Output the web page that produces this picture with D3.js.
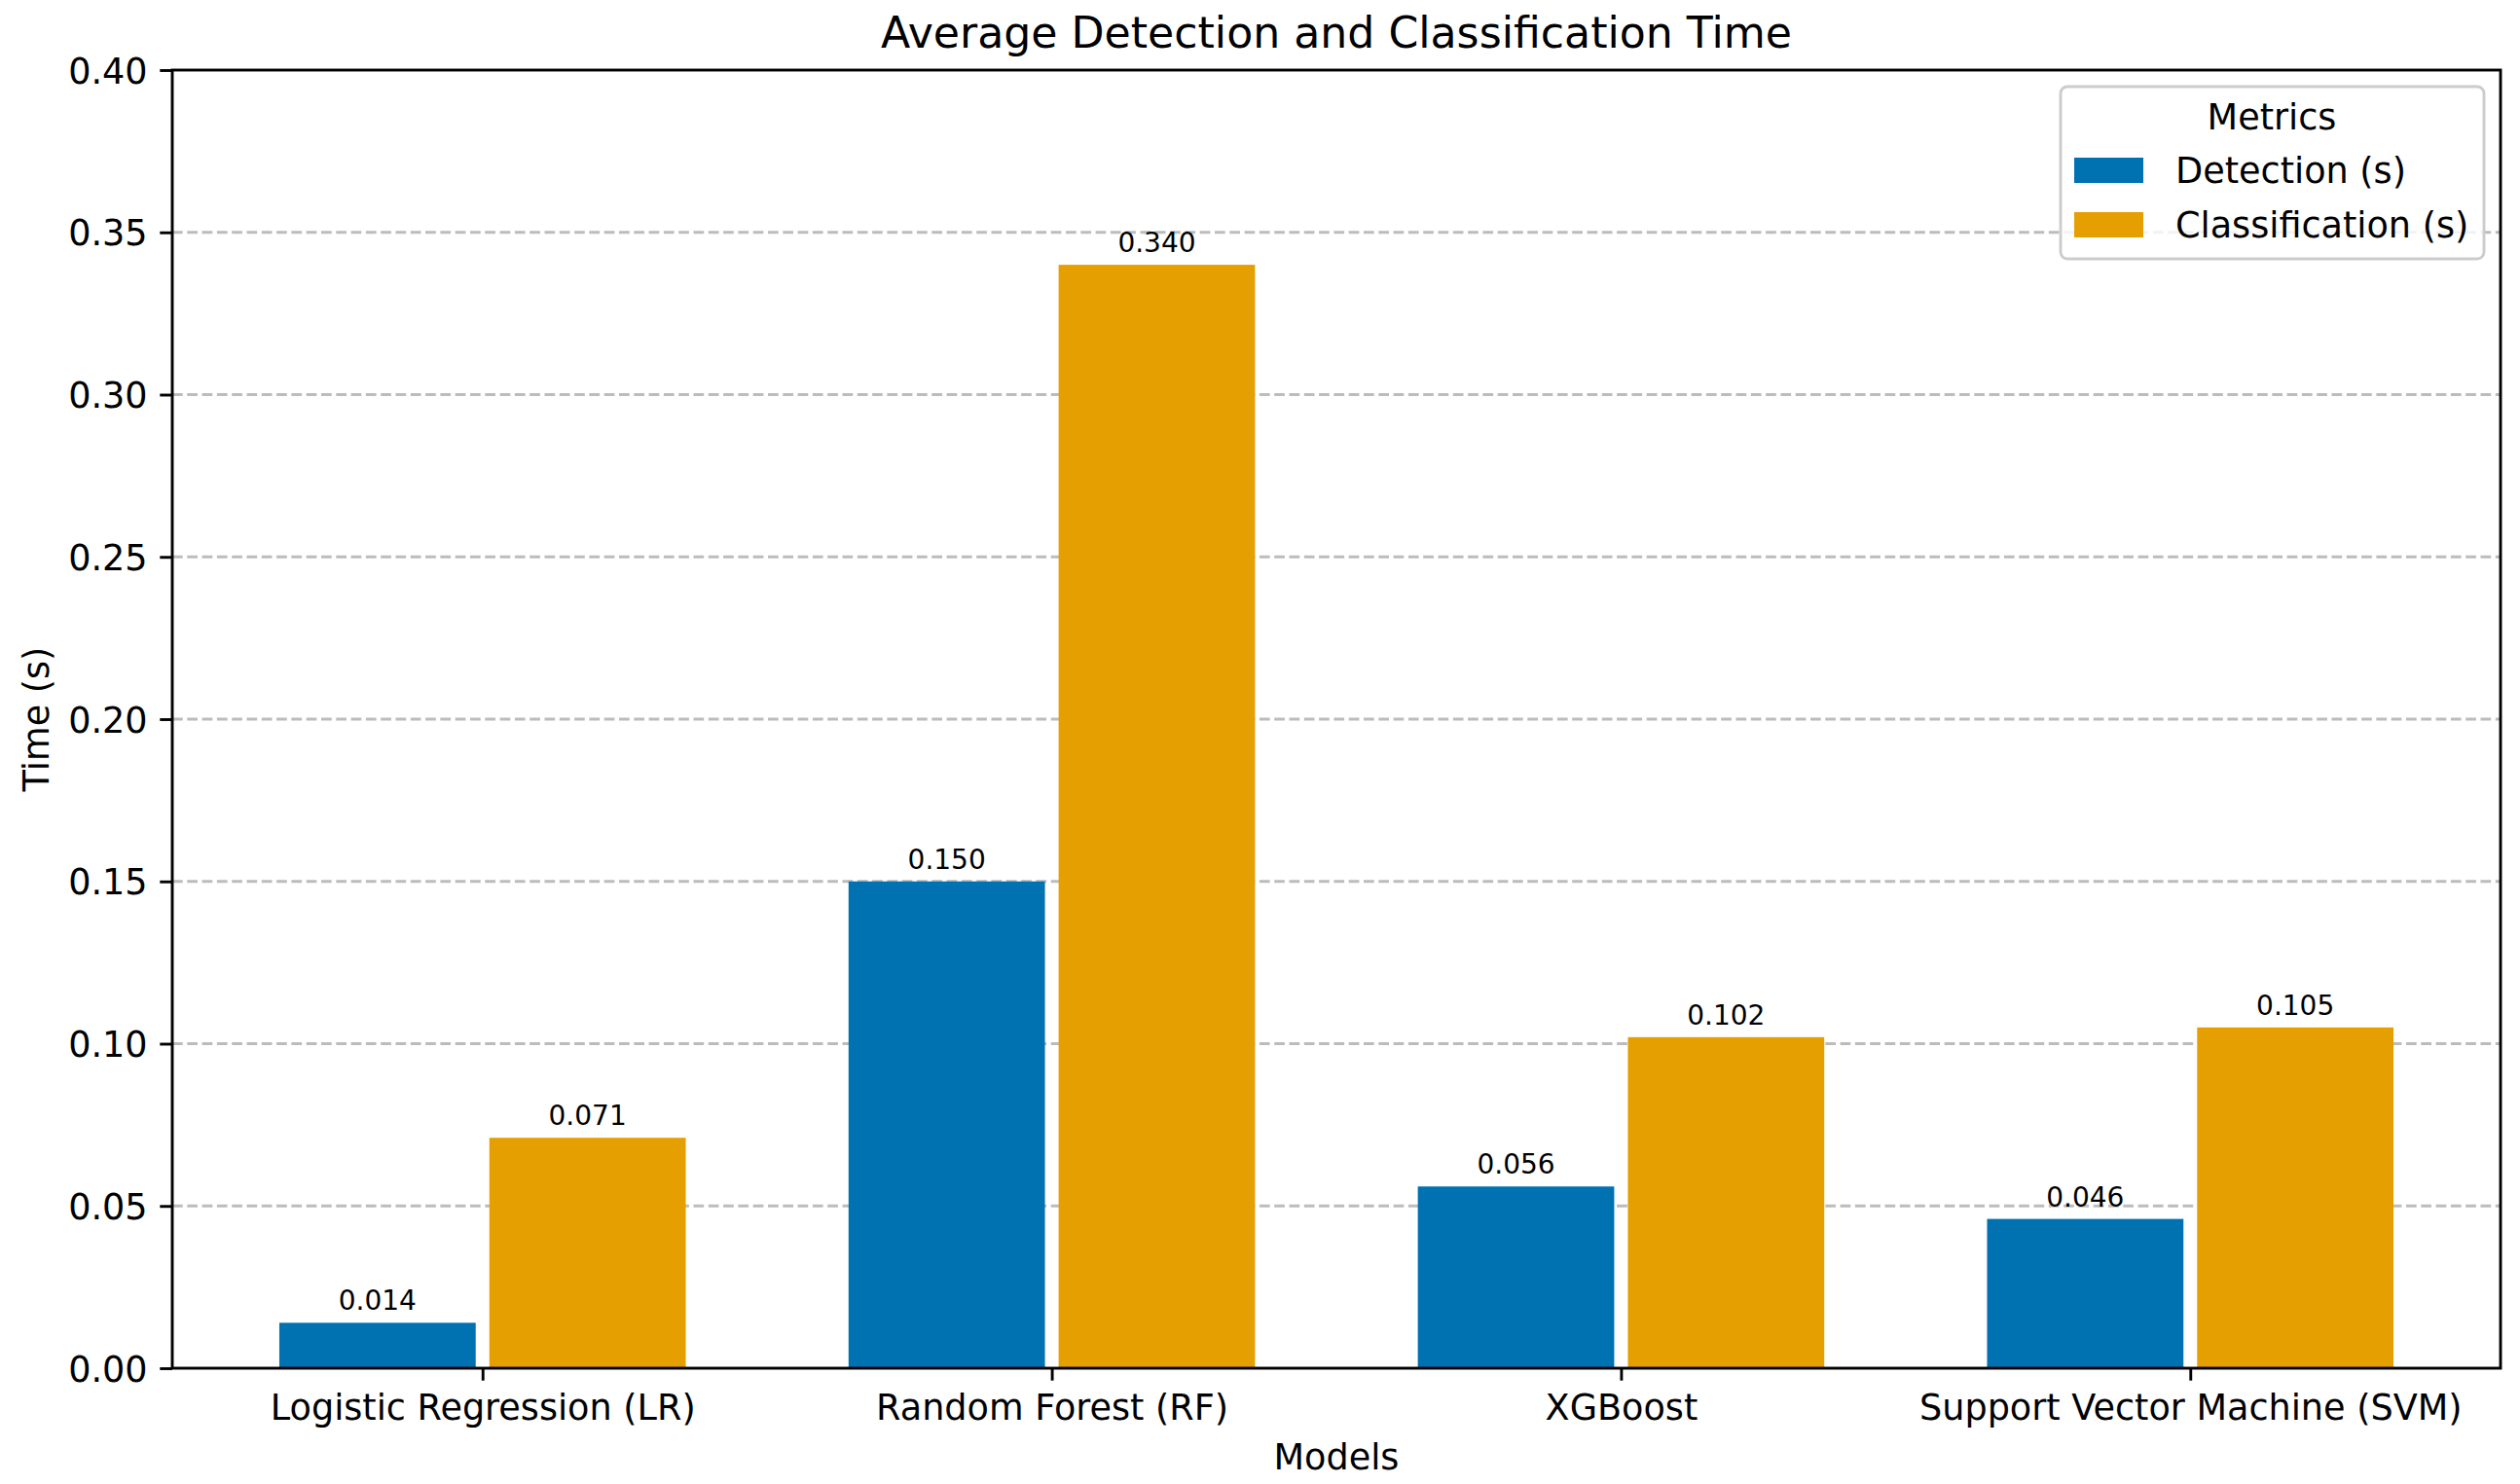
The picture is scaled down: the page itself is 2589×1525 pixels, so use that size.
<!DOCTYPE html>
<html>
<head>
<meta charset="utf-8">
<script src="https://cdn.jsdelivr.net/npm/d3@7"></script>
<style>
    body { margin: 0; background: #ffffff; }
    text { font-family: "DejaVu Sans", sans-serif; fill: #000; }
</style>
</head>
<body>
<div id="bar-chart"></div>
<script>
// data
var models = ["Logistic Regression (LR)", "Random Forest (RF)", "XGBoost", "Support Vector Machine (SVM)"];
var detection_times = [0.014, 0.150, 0.056, 0.046];
var classification_times = [0.071, 0.340, 0.102, 0.105];
var series_names = ["Detection (s)", "Classification (s)"];
var series_colors = ["#0072B2", "#E69F00"];
var y_ticks = [0.00, 0.05, 0.10, 0.15, 0.20, 0.25, 0.30, 0.35, 0.40];

const W = 2589, H = 1525;
const margin = { top: 72, bottom: 119, left: 177, right: 20 };
const width = W - margin.left - margin.right;
const height = H - margin.top - margin.bottom;
const bar_width = 0.345;
const bar_offset = 0.1845;

const svg = d3.select("#bar-chart")
    .append("svg")
    .attr("width", W)
    .attr("height", H);

const canvas = svg.append("g")
    .attr("transform", `translate(${margin.left},${margin.top})`);

var xScale = d3.scaleLinear()
    .domain([-0.545, 3.545])
    .range([0, width]);

var yScale = d3.scaleLinear()
    .domain([0, 0.40])
    .range([height, 0]);

// grid lines behind bars
canvas.append("g")
    .attr("class", "grid")
    .selectAll("line")
    .data(y_ticks.filter(function (t) { return t > 0 && t < 0.4; }))
    .join("line")
    .attr("x1", 0)
    .attr("x2", width)
    .attr("y1", function (d) { return yScale(d); })
    .attr("y2", function (d) { return yScale(d); })
    .attr("stroke", "#b0b0b0")
    .attr("stroke-opacity", 0.85)
    .attr("stroke-width", 2.9)
    .attr("stroke-dasharray", "10.7,4.6");

var series = [detection_times, classification_times];

series.forEach(function (values, s) {
    var off = s === 0 ? -bar_offset : bar_offset;
    var g = canvas.append("g").attr("class", "series-" + s);

    g.selectAll("rect")
        .data(values)
        .join("rect")
        .attr("x", function (d, i) { return xScale(i + off - bar_width / 2); })
        .attr("width", xScale(bar_width) - xScale(0))
        .attr("y", function (d) { return yScale(d); })
        .attr("height", function (d) { return yScale(0) - yScale(d); })
        .attr("fill", series_colors[s]);

    g.selectAll("text")
        .data(values)
        .join("text")
        .attr("x", function (d, i) { return xScale(i + off); })
        .attr("y", function (d) { return yScale(d) - 13; })
        .attr("text-anchor", "middle")
        .style("font-size", "28px")
        .text(function (d) { return d3.format(".3f")(d); });
});

// axes
var xAxis = canvas.append("g")
    .attr("transform", "translate(0," + height + ")")
    .call(d3.axisBottom(xScale)
        .tickValues(d3.range(models.length))
        .tickFormat(function (i) { return models[i]; })
        .tickSizeInner(12.7)
        .tickSizeOuter(0)
        .tickPadding(12.7));

var yAxis = canvas.append("g")
    .call(d3.axisLeft(yScale)
        .tickValues(y_ticks)
        .tickFormat(d3.format(".2f"))
        .tickSizeInner(12.7)
        .tickSizeOuter(0)
        .tickPadding(12.7));

[xAxis, yAxis].forEach(function (a) {
    a.select(".domain").remove();
    a.selectAll(".tick line").attr("stroke", "#000").attr("stroke-width", 2.9);
    a.selectAll(".tick text").style("font-size", "36.6px").attr("fill", "#000");
});
xAxis.selectAll(".tick text").attr("dy", "0.76em");
yAxis.selectAll(".tick text").attr("dy", "0.36em");

// frame
canvas.append("rect")
    .attr("x", 0)
    .attr("y", 0)
    .attr("width", width)
    .attr("height", height)
    .attr("fill", "none")
    .attr("stroke", "#000")
    .attr("stroke-width", 2.9);

// title and axis labels
svg.append("text")
    .attr("x", margin.left + width / 2)
    .attr("y", 49)
    .attr("text-anchor", "middle")
    .style("font-size", "44.2px")
    .text("Average Detection and Classification Time");

svg.append("text")
    .attr("x", margin.left + width / 2)
    .attr("y", 1510)
    .attr("text-anchor", "middle")
    .style("font-size", "36.6px")
    .text("Models");

svg.append("text")
    .attr("transform", "translate(50," + (margin.top + height / 2) + ") rotate(-90)")
    .attr("text-anchor", "middle")
    .style("font-size", "36.6px")
    .text("Time (s)");

// legend
var legend = svg.append("g").attr("transform", "translate(2117,89)");
legend.append("rect")
    .attr("width", 435)
    .attr("height", 177)
    .attr("rx", 7)
    .attr("fill", "#fff")
    .attr("fill-opacity", 0.8)
    .attr("stroke", "#cccccc")
    .attr("stroke-width", 2.9);

legend.append("text")
    .attr("x", 217)
    .attr("y", 44)
    .attr("text-anchor", "middle")
    .style("font-size", "36.6px")
    .text("Metrics");

series_names.forEach(function (name, i) {
    legend.append("rect")
        .attr("x", 14)
        .attr("y", 73 + i * 56)
        .attr("width", 71)
        .attr("height", 26)
        .attr("fill", series_colors[i]);
    legend.append("text")
        .attr("x", 118)
        .attr("y", 99 + i * 56)
        .style("font-size", "36.6px")
        .text(name);
});
</script>
</body>
</html>
